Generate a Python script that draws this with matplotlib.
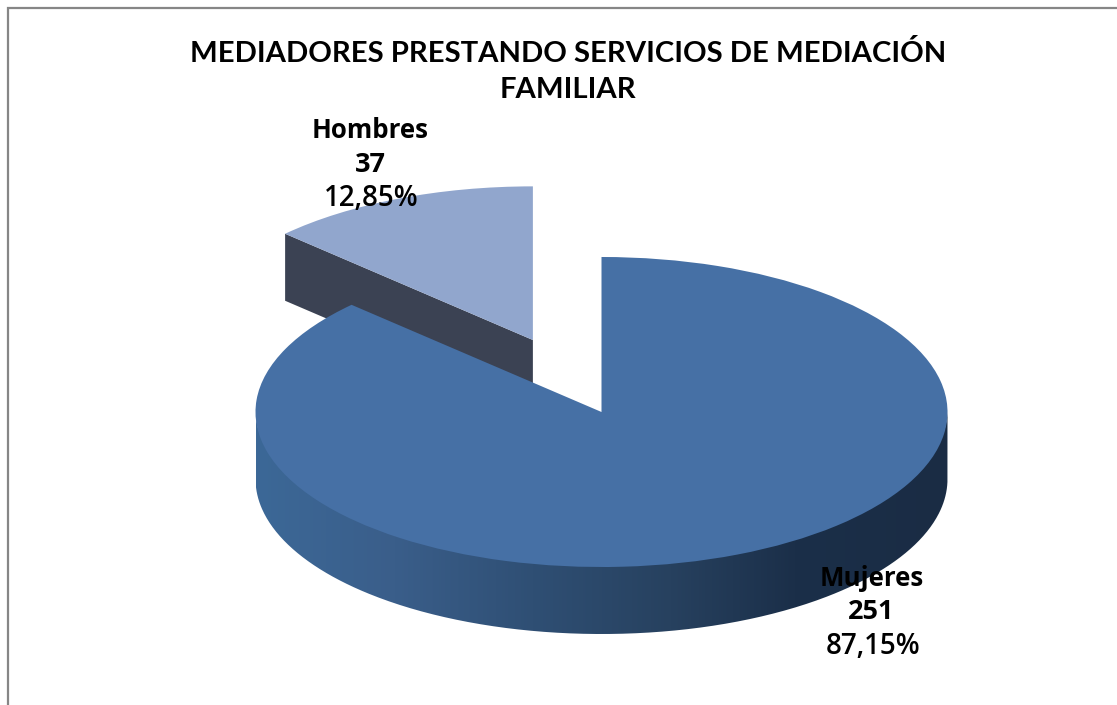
import numpy as np
from matplotlib import pyplot as plt
from matplotlib.colors import LinearSegmentedColormap
from matplotlib.patches import PathPatch, Polygon, Rectangle
from matplotlib.path import Path

title = 'MEDIADORES PRESTANDO SERVICIOS DE MEDIACIÓN\nFAMILIAR'
categories = ['Mujeres', 'Hombres']
values = [251, 37]
percents = ['87,15%', '12,85%']

W, H = 1117, 705
squash = 0.448   # height/width of the tilted pie
depth = 67 / squash
cy = 412

plt.rcParams['font.family'] = ['Lato', 'DejaVu Sans']
fig = plt.figure(figsize=(W / 100, H / 100), dpi=100)
ax = fig.add_axes([0, 0, 1, 1])

# explode is in data units here, not a share of the radius
wedges, _ = ax.pie(values, startangle=90, counterclock=False, center=(601.5, 0), radius=346,
                   explode=[0, 174.7], colors=['#4670a5', '#91a6cd'])
mujeres, hombres = wedges
hombres.set_radius(343)
ax.set_aspect('auto')
ax.set_xlim(0, W)
ax.set_ylim((cy - H) / squash, cy / squash)
ax.axis('off')
hombres.set_zorder(3)
mujeres.set_zorder(6)

# cut face of the pulled out slice
cx0, cy0 = hombres.center
t = np.radians(hombres.theta2)
ex, ey = cx0 + hombres.r * np.cos(t), cy0 + hombres.r * np.sin(t)
ax.add_patch(Polygon([(cx0, cy0), (ex, ey), (ex, ey - depth), (cx0, cy0 - depth)],
                     color='#3b4253', lw=0, zorder=2))

# rim of the big slice, only the front half shows
cx1, cy1 = mujeres.center
th = np.radians(np.linspace(mujeres.theta1, mujeres.theta2, 721))
th = th[np.sin(th) <= 0]
th = np.sort(th)
rx = cx1 + mujeres.r * np.cos(th)
ry = cy1 + mujeres.r * np.sin(th)
# top of the clip goes a little under the wedge so no white seam shows
rim = np.vstack([np.column_stack([rx, ry + 6]), np.column_stack([rx, ry - depth])[::-1]])
cmap = LinearSegmentedColormap.from_list('rim', [(0, '#3c6897'), (0.2, '#3a5e8a'), (0.4, '#2f4f74'),
                                                 (0.6, '#27415f'), (0.78, '#1b2f49'), (1, '#1a2c44')])
grad = ax.imshow(np.linspace(0, 1, 256).reshape(1, -1), cmap=cmap, aspect='auto', zorder=5,
                 extent=(rx.min(), rx.max(), ry.min() - depth, ry.max() + 6))
grad.set_clip_path(PathPatch(Path(rim), transform=ax.transData))
ax.set_xlim(0, W)
ax.set_ylim((cy - H) / squash, cy / squash)

# chart frame runs off the bottom and right of the picture
fig.add_artist(Rectangle((7.5 / W, -0.1), 1.2, 1.1 - 8.5 / H, transform=fig.transFigure,
                         fill=False, ec='#868686', lw=1.6))

fig.text(568 / W, 1 - 53.5 / H, title.split('\n')[0], fontsize=21.1, fontweight='bold', ha='center', va='center')
fig.text(568 / W, 1 - 89.5 / H, title.split('\n')[1], fontsize=21.1, fontweight='bold', ha='center', va='center')

label = dict(family=['Open Sans', 'DejaVu Sans'], ha='center', va='center', zorder=9)
fig.text(370 / W, 1 - 131 / H, categories[1], fontsize=18.6, fontweight='bold', **label)
fig.text(370 / W, 1 - 165 / H, str(values[1]), fontsize=19.5, fontweight='bold', **label)
fig.text(371.5 / W, 1 - 198 / H, percents[1], fontsize=20, fontweight='semibold', **label)
fig.text(872 / W, 1 - 578 / H, categories[0], fontsize=18.6, fontweight='bold', **label)
fig.text(871.5 / W, 1 - 612 / H, str(values[0]), fontsize=19.5, fontweight='bold', **label)
fig.text(873.5 / W, 1 - 646 / H, percents[0], fontsize=20, fontweight='semibold', **label)

fig.savefig('out.png', dpi=100)
